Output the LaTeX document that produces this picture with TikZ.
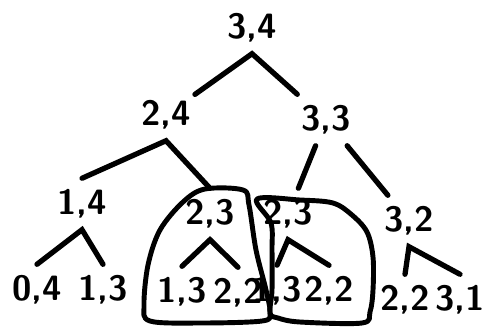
\documentclass[tikz,border=0pt]{standalone}
\usepackage{tikz}

\begin{document}
\begin{tikzpicture}[x=0.01cm, y=-0.01cm,
  num/.style={font=\sffamily\bfseries\fontsize{10}{12}\selectfont, inner xsep=1pt,
              inner ysep=0pt, minimum height=0.5cm},
  edge/.style={line width=1.5pt, line cap=round},
  blob/.style={line width=1.4pt, line join=round}
]
\useasboundingbox (0,0) rectangle (488,327);

%% ---- level 0 / 1 ----
\node[num] (root) at (252, 28) {3,4};
\node[num] (a)    at (166,115) {2,4};
\node[num] (b)    at (326,120) {3,3};

%% ---- level 2 ----
\node[num] (aa) at ( 82,204) {1,4};
\node[num] (ab) at (210,214) {2,3};
\node[num] (ba) at (288,214) {2,3};
\node[num] (bb) at (409,221) {3,2};

%% ---- level 3 ----
\node[num] (aaa) at ( 37,290) {0,4};
\node[num] (aab) at (103,290) {1,3};
\node[num] (aba) at (182,292) {1,3};
\node[num] (abb) at (238,293) {2,2};
\node[num] (baa) at (277,291) {1,3};
\node[num] (bab) at (329,291) {2,2};
\node[num] (bba) at (405,300) {2,2};
\node[num] (bbb) at (460,300) {3,1};

%% root caret
\draw[edge] (a) -- (root.south) -- (b);

%% lower carets
\foreach \l/\p/\r in {aa/a/ab, aaa/aa/aab, aba/ab/abb, baa/ba/bab, bba/bb/bbb}
  \draw[edge] (\l.north) -- (\p.south) -- (\r.north);

%% 3,3 has two loose strokes
\draw[edge] (b) -- (ba);
\draw[edge] (b) -- (bb);

%% circled subtrees
\draw[blob] plot[smooth cycle, tension=0.55] coordinates {
  (183,202) (205,189) (243,190) (249,205) (256,250) (266,290) (270,313)
  (262,321) (200,323) (150,321) (144,305) (148,265) (160,230)};
\draw[blob] plot[smooth cycle, tension=0.55] coordinates {
  (257,199) (300,200) (333,203) (352,215) (367,232) (373,257) (373,290)
  (370,312) (362,323) (300,322) (278,318) (270,313) (272,290) (272,250)
  (271,223)};

\end{tikzpicture}
\end{document}
